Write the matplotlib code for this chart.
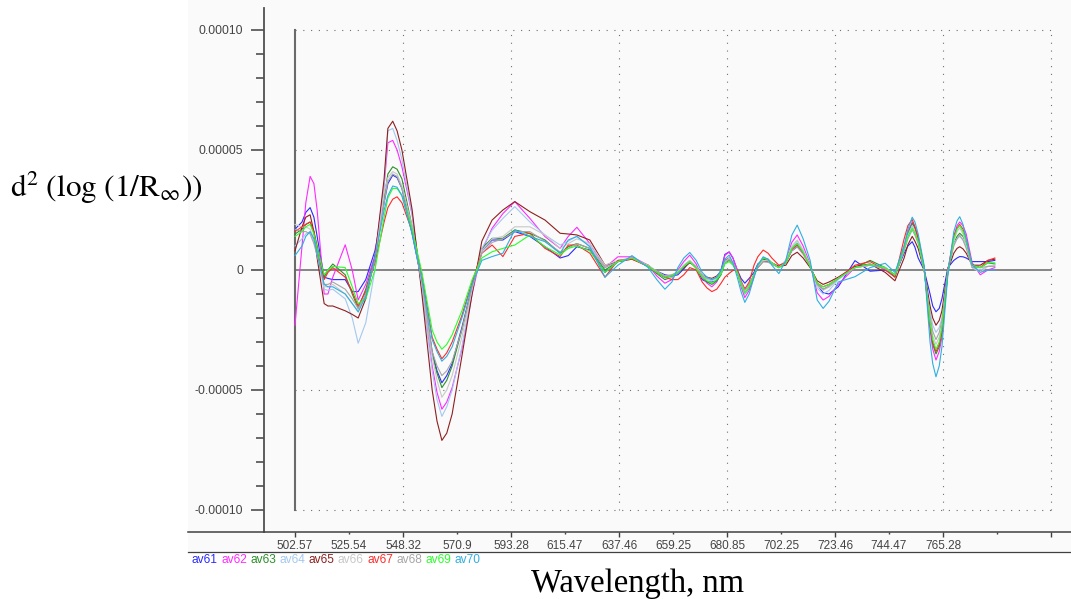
import numpy as np
import matplotlib
matplotlib.use('Agg')
import matplotlib.pyplot as plt
from matplotlib.lines import Line2D
from matplotlib.patches import Rectangle
from matplotlib.ticker import MultipleLocator

plt.rcParams['font.family'] = ['Liberation Sans', 'DejaVu Sans']
plt.rcParams['mathtext.fontset'] = 'stix'

# wavelength labels shown under the axis (one per channel step)
wl_labels = ['502.57', '525.54', '548.32', '570.9', '593.28', '615.47', '637.46',
             '659.25', '680.85', '702.25', '723.46', '744.47', '765.28']

# sample positions in channel steps (0 = 502.57 nm, 12 = 765.28 nm)
channel = [0.00, 0.13, 0.20, 0.28, 0.35, 0.41, 0.54, 0.61, 0.70, 0.93,
           1.06, 1.17, 1.31, 1.48, 1.65, 1.72, 1.81, 1.89, 1.98, 2.17,
           2.35, 2.54, 2.63, 2.72, 2.81, 2.91, 3.09, 3.28, 3.46, 3.65,
           3.85, 4.07, 4.35, 4.63, 4.91, 5.06, 5.22, 5.46, 5.74, 5.98,
           6.24, 6.54, 6.70, 6.85, 6.98, 7.09, 7.20, 7.31, 7.43, 7.54,
           7.63, 7.72, 7.81, 7.89, 7.96, 8.04, 8.11, 8.19, 8.26, 8.33,
           8.41, 8.50, 8.57, 8.67, 8.76, 8.83, 8.96, 9.09, 9.20, 9.30,
           9.41, 9.54, 9.67, 9.78, 9.89, 10.06, 10.37, 10.65, 10.93, 11.11,
           11.28, 11.35, 11.43, 11.48, 11.54, 11.65, 11.76, 11.81, 11.87, 11.93,
           11.98, 12.09, 12.20, 12.26, 12.31, 12.37, 12.43, 12.54, 12.69, 12.83,
           12.96]

# second derivative values, in units of 1e-5
av61 = [1.7, 2.0, 2.4, 2.6, 2.2, 1.4, -0.3, -0.35, -0.4, -0.4,
        -0.9, -0.9, -0.4, 0.8, 2.8, 3.6, 3.95, 3.85, 3.4, 1.5,
        -0.5, -3.4, -4.2, -4.7, -4.4, -3.9, -2.4, -0.7, 0.8, 1.25,
        1.25, 1.6, 1.4, 0.97, 0.5, 0.6, 0.97, 0.83, -0.1, 0.35,
        0.5, 0.15, -0.05, -0.2, -0.25, -0.2, 0.05, 0.35, 0.1, -0.4,
        -0.5, -0.5, -0.45, 0.0, 0.65, 0.75, 0.5, 0.0, -0.35, -0.55,
        -0.35, -0.1, 0.25, 0.42, 0.38, 0.25, 0.15, 0.35, 0.8, 0.97,
        0.7, 0.2, -0.6, -0.95, -1.0, -0.7, 0.39, -0.05, 0.0, -0.2,
        0.7, 1.0, 1.18, 0.95, 0.5, 0.0, -1.0, -1.5, -1.74, -1.6,
        -1.2, 0.1, 0.4, 0.5, 0.56, 0.55, 0.5, 0.35, 0.35, 0.35,
        0.4]
av62 = [-2.3, 1.0, 2.8, 3.9, 3.6, 2.5, -1.0, -1.0, -0.3, 1.05,
        0.0, -1.25, -0.6, 0.6, 3.5, 5.3, 5.4, 5.0, 4.3, 2.3,
        -0.8, -4.0, -5.1, -5.8, -5.5, -4.9, -3.3, -1.0, 0.8, 1.74,
        2.35, 2.85, 2.15, 1.39, 0.9, 1.4, 1.78, 1.1, 0.1, 0.55,
        0.55, 0.2, -0.25, -0.55, -0.4, 0.0, 0.35, 0.62, 0.25, -0.3,
        -0.55, -0.7, -0.5, -0.1, 0.6, 0.76, 0.5, 0.0, -0.7, -1.15,
        -0.85, -0.3, 0.2, 0.5, 0.45, 0.3, 0.1, 0.4, 1.15, 1.46,
        1.0, 0.25, -0.95, -1.25, -1.1, -0.6, 0.1, 0.2, 0.1, -0.2,
        1.0, 1.6, 2.0, 1.8, 1.4, 0.1, -2.5, -3.3, -3.75, -3.4,
        -2.8, -0.1, 1.4, 1.85, 2.0, 1.85, 1.5, 0.3, -0.2, 0.0,
        0.1]
av63 = [1.5, 1.7, 1.9, 2.0, 1.6, 1.0, -0.3, 0.0, 0.25, -0.2,
        -1.0, -1.6, -0.8, 0.5, 3.0, 4.0, 4.3, 4.2, 3.8, 1.8,
        -0.6, -3.5, -4.3, -4.9, -4.6, -4.0, -2.5, -0.7, 0.9, 1.32,
        1.32, 1.67, 1.53, 1.25, 0.7, 0.97, 1.1, 0.9, 0.0, 0.35,
        0.5, 0.15, -0.15, -0.4, -0.3, -0.1, 0.15, 0.35, 0.1, -0.3,
        -0.5, -0.6, -0.45, -0.2, 0.3, 0.4, 0.25, -0.1, -0.6, -1.0,
        -0.75, -0.2, 0.2, 0.45, 0.4, 0.25, 0.1, 0.3, 0.9, 1.1,
        0.75, 0.15, -0.6, -0.8, -0.7, -0.35, 0.1, 0.4, 0.1, -0.3,
        0.9, 1.5, 1.95, 1.75, 1.3, 0.1, -2.3, -3.1, -3.5, -3.2,
        -2.6, -0.1, 1.1, 1.4, 1.53, 1.4, 1.1, 0.2, 0.1, 0.3,
        0.25]
av64 = [1.0, 1.3, 1.5, 1.6, 1.2, 0.6, -0.8, -0.85, -0.8, -1.2,
        -2.0, -3.05, -2.2, 0.0, 3.5, 5.8, 5.9, 5.4, 4.6, 2.3,
        -0.8, -4.2, -5.4, -6.1, -5.7, -5.0, -3.2, -0.9, 0.9, 1.66,
        2.15, 2.64, 2.0, 1.46, 1.04, 1.2, 1.4, 1.0, 0.1, 0.4,
        0.5, 0.15, -0.1, -0.35, -0.3, -0.1, 0.2, 0.4, 0.15, -0.25,
        -0.4, -0.45, -0.35, -0.15, 0.35, 0.5, 0.3, -0.1, -0.6, -1.0,
        -0.7, -0.2, 0.15, 0.4, 0.35, 0.25, 0.1, 0.3, 0.95, 1.2,
        0.8, 0.2, -0.75, -1.0, -0.85, -0.4, 0.1, 0.2, 0.1, -0.2,
        0.9, 1.45, 1.85, 1.6, 1.2, 0.0, -1.7, -2.3, -2.6, -2.4,
        -2.0, 0.0, 1.1, 1.3, 1.4, 1.25, 1.0, 0.1, 0.0, 0.15,
        0.2]
av65 = [0.8, 1.8, 2.2, 2.3, 1.6, 0.5, -1.4, -1.5, -1.5, -1.7,
        -1.85, -2.0, -1.2, 0.5, 3.8, 5.9, 6.2, 5.8, 5.0, 2.5,
        -1.0, -5.0, -6.3, -7.1, -6.8, -6.0, -3.6, -1.0, 1.2, 2.08,
        2.5, 2.85, 2.43, 2.08, 1.53, 1.5, 1.46, 1.25, 0.2, 0.35,
        0.45, 0.2, -0.1, -0.3, -0.25, -0.1, 0.1, 0.3, 0.15, -0.2,
        -0.3, -0.35, -0.25, -0.05, 0.4, 0.5, 0.3, -0.1, -0.5, -0.8,
        -0.6, -0.2, 0.1, 0.35, 0.35, 0.3, 0.15, 0.2, 0.6, 0.74,
        0.5, 0.1, -0.45, -0.6, -0.5, -0.3, 0.15, 0.25, -0.1, -0.45,
        0.5, 1.05, 1.4, 1.2, 0.9, 0.0, -1.5, -2.0, -2.3, -2.1,
        -1.7, 0.0, 0.7, 0.9, 0.97, 0.88, 0.7, 0.2, 0.2, 0.4,
        0.45]
av66 = [1.9, 1.8, 1.8, 1.7, 1.3, 0.7, -0.7, -0.7, -0.6, -1.0,
        -1.4, -1.7, -1.0, 0.4, 3.2, 3.85, 4.1, 4.0, 3.5, 1.8,
        -0.6, -3.6, -4.6, -5.3, -5.0, -4.4, -2.8, -0.8, 0.8, 1.3,
        1.4, 1.8, 1.8, 1.46, 0.9, 1.1, 1.3, 1.1, 0.2, 0.4,
        0.5, 0.2, -0.05, -0.25, -0.2, -0.05, 0.2, 0.4, 0.15, -0.2,
        -0.35, -0.4, -0.3, -0.1, 0.35, 0.5, 0.3, -0.1, -0.5, -0.85,
        -0.6, -0.2, 0.15, 0.4, 0.38, 0.3, 0.1, 0.4, 1.0, 1.25,
        0.85, 0.2, -0.65, -0.85, -0.7, -0.35, 0.1, 0.2, 0.1, -0.2,
        0.8, 1.4, 1.8, 1.6, 1.2, 0.0, -2.0, -2.75, -3.1, -2.8,
        -2.3, -0.1, 1.2, 1.6, 1.75, 1.5, 1.0, 0.1, -0.1, 0.15,
        0.2]
av67 = [1.6, 1.8, 1.9, 2.0, 1.6, 0.9, -0.4, -0.1, 0.1, -0.3,
        -0.9, -1.5, -0.9, 0.3, 2.0, 2.6, 2.95, 3.05, 2.8, 1.6,
        -0.2, -2.8, -3.3, -3.7, -3.45, -3.0, -1.9, -0.5, 0.7, 1.04,
        0.56, 1.4, 1.53, 0.9, 0.56, 1.04, 1.04, 0.7, -0.3, 0.4,
        0.45, 0.15, -0.1, -0.3, -0.4, -0.4, -0.2, 0.1, 0.0, -0.5,
        -0.75, -0.9, -0.8, -0.55, -0.3, -0.14, -0.02, 0.0, -0.45, -0.8,
        -0.5, 0.2, 0.55, 0.83, 0.7, 0.5, 0.2, 0.3, 0.85, 1.04,
        0.7, 0.15, -0.55, -0.7, -0.6, -0.35, 0.2, 0.35, 0.0, -0.3,
        1.3, 1.85, 2.1, 1.8, 1.3, 0.1, -2.3, -3.0, -3.4, -3.1,
        -2.5, 0.0, 1.4, 1.75, 1.9, 1.7, 1.3, 0.2, 0.1, 0.4,
        0.5]
av68 = [1.7, 1.6, 1.6, 1.5, 1.1, 0.6, -0.6, -0.6, -0.5, -0.8,
        -1.2, -1.6, -1.0, 0.4, 2.8, 3.7, 4.0, 3.9, 3.4, 1.7,
        -0.5, -3.4, -4.0, -4.4, -4.2, -3.8, -2.5, -0.7, 0.7, 1.15,
        1.3, 1.6, 1.6, 1.2, 0.75, 0.9, 1.1, 0.9, 0.1, 0.35,
        0.5, 0.15, -0.05, -0.25, -0.2, -0.1, 0.15, 0.35, 0.1, -0.25,
        -0.35, -0.4, -0.3, -0.1, 0.3, 0.45, 0.25, -0.1, -0.5, -0.85,
        -0.6, -0.2, 0.1, 0.35, 0.32, 0.25, 0.1, 0.3, 0.8, 0.97,
        0.65, 0.15, -0.6, -0.8, -0.65, -0.35, 0.1, 0.2, 0.05, -0.2,
        0.8, 1.3, 1.67, 1.45, 1.1, 0.0, -1.9, -2.55, -2.9, -2.6,
        -2.1, 0.0, 1.0, 1.3, 1.45, 1.25, 0.9, 0.1, 0.1, 0.15,
        0.15]
av69 = [1.4, 1.6, 1.8, 1.9, 1.5, 0.9, -0.2, 0.0, 0.15, 0.1,
        -0.7, -1.4, -1.2, 0.0, 2.2, 3.0, 3.4, 3.4, 3.1, 1.7,
        -0.1, -2.5, -3.0, -3.3, -3.1, -2.7, -1.7, -0.4, 0.5, 0.76,
        0.9, 1.04, 1.46, 0.97, 0.63, 0.9, 1.0, 0.8, -0.1, 0.35,
        0.5, 0.15, -0.1, -0.3, -0.25, -0.1, 0.15, 0.35, 0.05, -0.3,
        -0.45, -0.55, -0.4, -0.15, 0.25, 0.35, 0.2, -0.1, -0.6, -0.95,
        -0.7, -0.2, 0.2, 0.5, 0.45, 0.3, 0.1, 0.3, 0.9, 1.1,
        0.75, 0.15, -0.55, -0.7, -0.6, -0.35, 0.1, 0.25, 0.1, -0.2,
        0.9, 1.4, 1.73, 1.55, 1.2, 0.05, -2.2, -2.9, -3.3, -3.0,
        -2.4, -0.1, 1.3, 1.7, 1.85, 1.6, 1.2, 0.2, 0.1, 0.3,
        0.3]
av70 = [0.6, 1.0, 1.4, 1.6, 1.3, 0.7, -0.6, -0.7, -0.7, -1.0,
        -1.4, -1.75, -1.1, 0.5, 2.5, 3.1, 3.5, 3.45, 3.1, 1.5,
        -0.4, -2.9, -3.4, -3.8, -3.6, -3.2, -2.0, -0.6, 0.4, 0.56,
        0.7, 1.67, 1.4, 1.18, 0.7, 1.25, 1.4, 0.97, -0.3, 0.2,
        0.6, 0.1, -0.4, -0.8, -0.5, 0.1, 0.5, 0.73, 0.4, -0.1,
        -0.3, -0.4, -0.3, 0.0, 0.45, 0.62, 0.3, -0.3, -0.9, -1.35,
        -1.0, -0.3, 0.2, 0.55, 0.45, 0.2, -0.15, 0.4, 1.45, 1.87,
        1.3, 0.4, -1.25, -1.6, -1.3, -0.5, -0.28, 0.1, 0.28, -0.1,
        1.0, 1.7, 2.2, 2.0, 1.5, 0.2, -3.0, -3.9, -4.45, -4.0,
        -3.2, -0.2, 1.6, 2.05, 2.22, 1.9, 1.3, 0.2, -0.1, 0.0,
        0.0]

series_names = ['av61', 'av62', 'av63', 'av64', 'av65',
                'av66', 'av67', 'av68', 'av69', 'av70']
series_values = [av61, av62, av63, av64, av65, av66, av67, av68, av69, av70]
series_colors = ['#2a2aff', '#ff2aff', '#2a8f2a', '#a4c8f0', '#8e1f1f',
                 '#c8c8c8', '#ff2a2a', '#a6a6a6', '#2aff2a', '#30aee0']

W, H = 1071, 599


def fx(px):
    return px / W


def fy(py):
    return 1 - py / H


fig = plt.figure(figsize=(W / 100, H / 100), dpi=100)
fig.patch.set_facecolor('white')

# faint panel behind the chart
fig.add_artist(Rectangle((fx(188), fy(552)), 1 - fx(188), 1 - fy(552),
                         transform=fig.transFigure, facecolor='#fafafa',
                         edgecolor='none', zorder=-5))

ax = fig.add_axes([fx(264), fy(532), fx(1071) - fx(264), fy(8) - fy(532)])
ax.set_facecolor('none')
ax.set_xlim(-31 / 54, 776 / 54)
ax.set_ylim(-262 / 24 * 1e-5, 262 / 24 * 1e-5)

for s in ['top', 'right', 'bottom']:
    ax.spines[s].set_visible(False)
ax.spines['left'].set_color('#505050')
ax.spines['left'].set_linewidth(1.3)

# grid
dot = (0, (1, 6))
for y in (1e-4, 5e-5, -5e-5, -1e-4):
    ax.plot([0, 14], [y, y], color='#707070', lw=0.8, ls=dot, zorder=1)
for x in range(2, 15, 2):
    ax.plot([x, x], [-1e-4, 1e-4], color='#707070', lw=0.8, ls=dot, zorder=1)
ax.plot([0, 0], [-1e-4, 1e-4], color='#6a6a6a', lw=1.5, zorder=1)
ax.plot([0, 14], [0, 0], color='#666666', lw=1.1, zorder=1)

# spectra
for name, vals, col in zip(series_names, series_values, series_colors):
    ax.plot(channel, np.array(vals) * 1e-5, color=col, lw=0.8, zorder=3,
            solid_joinstyle='round')

# y ticks
ax.set_yticks([-1e-4, -5e-5, 0, 5e-5, 1e-4])
ax.set_yticklabels(['-0.00010', '-0.00005', '0', '0.00005', '0.00010'])
ax.yaxis.set_minor_locator(MultipleLocator(1e-5))
ax.tick_params(axis='y', which='major', length=9.5, width=1.1, color='#404040',
               labelsize=8.8, labelcolor='#444444', pad=5.5)
ax.tick_params(axis='y', which='minor', length=5.5, width=1.1, color='#404040')

# x ticks
major_x = list(range(0, 15, 2))
minor_x = list(range(1, 14, 2))
ax.set_xticks(major_x)
ax.set_xticklabels([wl_labels[i] if i < len(wl_labels) else '' for i in major_x])
ax.set_xticks(minor_x, minor=True)
ax.set_xticklabels([wl_labels[i] if i < len(wl_labels) else '' for i in minor_x],
                   minor=True)
ax.tick_params(axis='x', which='major', length=3.4, width=1, color='#404040',
               labelsize=8.5, labelcolor='#444444', pad=2.4)
ax.tick_params(axis='x', which='minor', length=1.3, width=1, color='#404040',
               labelsize=8.5, labelcolor='#444444', pad=4.5)

# axis line and rule under the labels
fig.add_artist(Line2D([fx(188), 1], [fy(532), fy(532)], color='#404040', lw=1.1))
fig.add_artist(Line2D([fx(188), 1], [fy(552), fy(552)], color='#404040', lw=0.9))

# legend as a row of coloured names
t = fig.text(fx(192), fy(560), series_names[0], color=series_colors[0],
             fontsize=8.6, va='center', ha='left')
for name, col in zip(series_names[1:], series_colors[1:]):
    t = ax.annotate(name, xy=(1, 0), xycoords=t, xytext=(3.3, 0),
                    textcoords='offset pixels', color=col, fontsize=8.6,
                    va='bottom', ha='left', annotation_clip=False)

# axis titles
fig.text(fx(10), fy(197), r'$\mathrm{d}^2\ (\mathrm{log}\ (1/\mathrm{R}_\infty))$',
         fontsize=22.5, va='baseline', ha='left')
fig.text(fx(638), fy(592), 'Wavelength, nm', family=['Liberation Serif', 'DejaVu Serif'],
         fontsize=23.5, va='baseline', ha='center')

fig.savefig('out.png', dpi=100)
